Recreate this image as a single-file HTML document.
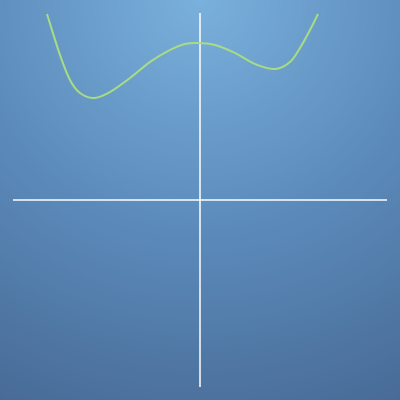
<!DOCTYPE html>
<html><head><meta charset="utf-8"><style>
html,body{margin:0;padding:0;width:400px;height:400px;overflow:hidden}
#bg{position:absolute;left:0;top:0;width:400px;height:400px;background:radial-gradient(ellipse 520px 520px at 200px 0px,#7ab0dc 0%,#5b8aba 45%,#42608a 100%)}
svg{position:absolute;left:0;top:0}
</style></head><body>
<div id="bg"></div>
<svg id="chart" width="400" height="400">
<line x1="13" y1="200" x2="387" y2="200" stroke="#fff" stroke-width="1.5"/>
<line x1="200" y1="13" x2="200" y2="387" stroke="#fff" stroke-width="1.5"/>
</svg>
<script>
const xValues=[-1.53,-1.40,-1.30,-1.20,-1.06,-0.90,-0.70,-0.50,-0.30,-0.15,-0.02,0.15,0.35,0.55,0.75,0.90,1.00,1.10,1.18];
const yValues=[1.86,1.45,1.20,1.07,1.02,1.08,1.22,1.38,1.50,1.56,1.57,1.55,1.47,1.36,1.31,1.38,1.52,1.70,1.86];
const sx=v=>200+v*100, sy=v=>200-v*100;
const pts=xValues.map((x,i)=>[sx(x),sy(yValues[i])]);
let d='M'+pts[0][0]+','+pts[0][1];
for(let i=0;i<pts.length-1;i++){
  const p0=pts[i-1]||pts[i],p1=pts[i],p2=pts[i+1],p3=pts[i+2]||p2;
  d+=' C'+(p1[0]+(p2[0]-p0[0])/6)+','+(p1[1]+(p2[1]-p0[1])/6)+' '+(p2[0]-(p3[0]-p1[0])/6)+','+(p2[1]-(p3[1]-p1[1])/6)+' '+p2[0]+','+p2[1];
}
const path=document.createElementNS('http://www.w3.org/2000/svg','path');
path.setAttribute('d',d);
path.setAttribute('fill','none');
path.setAttribute('stroke','#a8dc84');
path.setAttribute('stroke-width','2');


document.getElementById('chart').appendChild(path);
</script>
</body></html>
